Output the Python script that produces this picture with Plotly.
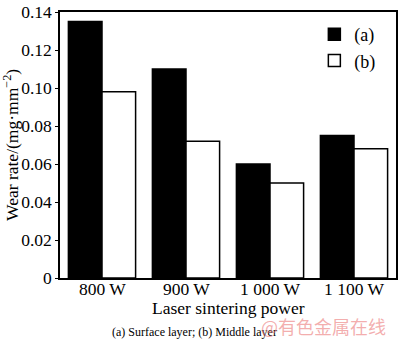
import plotly.graph_objects as go

categories = ["800 W", "900 W", "1 000 W", "1 100 W"]
surface = [0.135, 0.110, 0.060, 0.075]
middle = [0.098, 0.072, 0.050, 0.068]
series_names = ["(a)", "(b)"]
y_ticks = [0, 0.02, 0.04, 0.06, 0.08, 0.10, 0.12, 0.14]
y_tick_labels = ["0", "0.02", "0.04", "0.06", "0.08", "0.10", "0.12", "0.14"]

FONT = "Liberation Serif"

fig = go.Figure()
fig.add_trace(go.Bar(x=categories, y=surface, name=series_names[0],
                     marker=dict(color="black", line=dict(color="black", width=1.5))))
fig.add_trace(go.Bar(x=categories, y=middle, name=series_names[1],
                     marker=dict(color="white", line=dict(color="black", width=1.5))))

fig.update_layout(
    width=400, height=343,
    margin=dict(l=60, r=2, t=6, b=65),
    paper_bgcolor="white", plot_bgcolor="white",
    barmode="group", bargap=0.2, bargroupgap=0,
    font=dict(family=FONT, color="black", size=17),
    showlegend=True,
    legend=dict(x=0.757, y=0.985, xanchor="left", yanchor="top",
                bgcolor="rgba(0,0,0,0)", font=dict(size=18, family=FONT),
                tracegroupgap=0, itemwidth=30),
)
fig.update_xaxes(showline=True, linecolor="black", linewidth=1.5, mirror=True,
                 ticks="", showticklabels=False)
fig.update_yaxes(range=[0, 0.14], tickvals=y_ticks, ticktext=y_tick_labels,
                 showline=True, linecolor="black", linewidth=1.5, mirror=True,
                 ticks="outside", ticklen=3, tickcolor="black", showgrid=False, zeroline=False,
                 ticklabeloverflow="allow",
                 tickfont=dict(size=17.5, family=FONT))

# category tick labels, placed on the category axis
for c in categories:
    fig.add_annotation(text=c, xref="x", yref="paper", x=c, y=-0.04,
                       showarrow=False, xanchor="center", yanchor="middle",
                       font=dict(size=17.5, family=FONT))

fig.add_annotation(text="Laser sintering power", xref="paper", yref="paper",
                   x=0.5, y=-0.113, showarrow=False, xanchor="center", yanchor="middle",
                   font=dict(size=17.5, family=FONT))
fig.add_annotation(text="Wear rate/(mg·mm<sup>−2</sup>)", xref="paper", yref="paper",
                   x=-0.146, y=0.5, textangle=-90, showarrow=False,
                   xanchor="center", yanchor="middle",
                   font=dict(size=17.5, family=FONT))
fig.add_annotation(text="(a) Surface layer; (b) Middle layer", xref="paper", yref="paper",
                   x=0.148, y=-0.202, showarrow=False, xanchor="left", yanchor="middle",
                   font=dict(size=12, family=FONT))
fig.add_annotation(text="@有色金属在线", xref="paper", yref="paper",
                   x=0.976, y=-0.18, showarrow=False, xanchor="right", yanchor="middle",
                   font=dict(size=18, family="Noto Sans CJK SC", color="rgba(235,120,120,0.6)"))

fig.write_html("out.html")
